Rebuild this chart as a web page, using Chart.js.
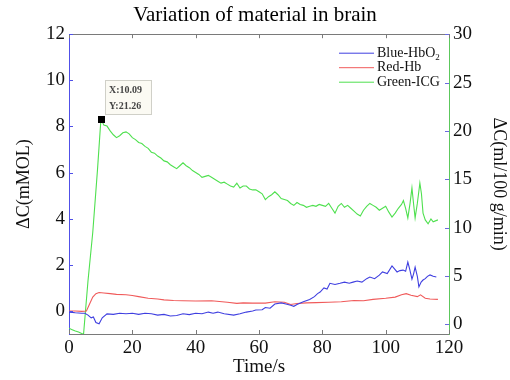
<!DOCTYPE html>
<html>
<head>
<meta charset="utf-8">
<script src="https://cdn.jsdelivr.net/npm/chart.js@4.4.1/dist/chart.umd.min.js"></script>
<style>
  html, body { margin: 0; padding: 0; background: #fff; }
</style>
</head>
<body>
<canvas id="graphe" width="510" height="380"></canvas>
<script>
// time axis (s) and values
const blueTime = [0,2,4,5,6,7,7.7,8.5,9.5,10.5,12,14,16,18,20,22,24,26,28,30,32,34,36,38,40,42,44,45.5,47,49,52,54,56,58,59,61,62,63.5,65,67,68.5,70,71,72,74,76,77.5,78.5,79.3,80.5,81.5,82.4,84,85.6,87,88.5,89.7,91,92.5,94,95,96.5,98,99,100.5,102,103.6,104.5,105.5,106.3,107,107.6,108.3,108.8,109.3,110,110.5,111.2,111.8,112.5,113.2,114,115,116]
const blueHbO2 = [-0.05,-0.08,-0.1,-0.1,-0.18,-0.3,-0.26,-0.5,-0.56,-0.3,-0.13,-0.15,-0.1,-0.12,-0.1,-0.15,-0.1,-0.12,-0.18,-0.15,-0.22,-0.2,-0.12,-0.16,-0.1,-0.12,-0.05,-0.1,-0.05,-0.12,-0.18,-0.12,-0.05,0,0.04,0.05,0.15,0.12,0.3,0.35,0.3,0.25,0.2,0.28,0.4,0.5,0.62,0.75,0.82,1.0,0.95,1.2,1.15,1.2,1.25,1.2,1.25,1.3,1.25,1.4,1.47,1.4,1.55,1.69,1.62,1.95,1.69,1.75,1.77,1.72,2.12,1.8,1.38,1.6,1.9,1.5,1.04,1.25,1.34,1.4,1.5,1.56,1.5,1.47]

const redTime = [0,2,4,5.5,6.5,7.5,8.5,9.5,11,13,15,18,20,22,25,28,30,33,36,40,45,50,53,55,58,62,65,68,70,72,75,78,82,86,90,93,96,100,103,105,106.5,108,110,111,112.5,114,116.5]
const redHb = [0,0,-0.02,0,0.3,0.6,0.75,0.8,0.78,0.75,0.72,0.7,0.67,0.62,0.55,0.52,0.48,0.45,0.44,0.43,0.44,0.38,0.33,0.35,0.34,0.34,0.4,0.38,0.28,0.32,0.35,0.36,0.38,0.4,0.45,0.44,0.5,0.55,0.6,0.7,0.75,0.68,0.62,0.7,0.55,0.52,0.5]

const greenTime = [0,1,2,3,4,4.6,6,7.5,9,10.09,
  11,12,13,14,15,16,17,18,19,20,21,22,23,24,25,26,27,28,29,30,
  31,32,33,34,35,36,37,38,39,40,41,42,43,44,45,46,47,48,49,50,
  51,52,53,54,55,56,57,58,59,60,61,62,63,64,65,66,67,68,69,70,
  71,72,73,74,75,76,77,78,79,80,81,82,83,84,85,86,87,88,89,90,
  91,92,93,94,95,96,97,98,99,100,101,102,103,104,105,105.6,106.3,107,107.7,108.3,
  108.8,109.3,110,110.8,111.3,111.8,112.5,113.4,114.3,115,116.5]
const greenICG = [-0.4,-0.55,-0.7,-0.8,-0.95,-1,4.5,9.5,16,21.26,
  20.6,20.5,20.0,19.6,19.3,19.5,19.8,19.9,19.7,19.3,19.1,18.8,18.7,18.4,18.2,17.8,17.7,17.4,17.2,16.9,
  16.8,16.5,16.3,16.1,16.4,16.7,16.4,16.2,15.9,15.7,15.5,15.2,15.3,15.4,15.2,15.0,14.8,14.6,14.7,14.5,
  14.3,14.2,14.6,14.1,14.3,14.3,14.0,13.9,13.9,13.7,13.5,12.9,13.2,13.4,13.7,13.4,13.0,12.9,12.8,12.5,
  12.3,12.6,12.4,12.3,12.1,12.2,12.3,12.2,12.4,12.3,12.2,12.5,12.0,11.5,12.2,12.5,12.1,12.3,12.0,11.7,
  11.4,11.2,11.8,12.2,12.5,12.3,12.1,11.8,12.0,12.2,11.6,11.1,11.5,12.0,12.4,12.8,12.0,11.0,12.5,14.1,
  12.5,11.0,12.5,14.6,13.5,11.5,10.8,10.4,10.9,10.6,10.8]

const xTicks = [0,20,40,60,80,100,120]
const leftTicks = [0,2,4,6,8,10,12]
const rightTicks = [0,5,10,15,20,25,30]

const labels = ['Blue-HbO', 'Red-Hb', 'Green-ICG']
const couleurs = ['#3f3fe0', '#f05a5a', '#4fe04f']

// data cursor on the green peak
const tipIndex = greenICG.indexOf(Math.max(...greenICG))

const police = 'Liberation Serif'

function points(t, v){
  return Array.from(t, (x, i) => ({x: x, y: v[i]}))
}

const cadre = {
  id: 'cadre',
  afterDraw(chart){
    const ctx = chart.ctx
    const a = chart.chartArea
    const sx = chart.scales.x, sl = chart.scales.yL, sr = chart.scales.yR
    ctx.save()
    ctx.lineWidth = 1
    // top border
    ctx.strokeStyle = '#7a7a7a'
    ctx.beginPath(); ctx.moveTo(a.left, Math.round(a.top) + 0.5); ctx.lineTo(a.right, Math.round(a.top) + 0.5); ctx.stroke()
    // inward ticks on x
    xTicks.forEach(v => {
      const px = Math.round(sx.getPixelForValue(v)) + 0.5
      ctx.beginPath()
      ctx.moveTo(px, a.bottom); ctx.lineTo(px, a.bottom - 4)
      ctx.moveTo(px, a.top); ctx.lineTo(px, a.top + 4)
      ctx.stroke()
    })
    // left ticks (blue)
    ctx.strokeStyle = '#5050e8'
    leftTicks.forEach(v => {
      const py = Math.round(sl.getPixelForValue(v)) + 0.5
      ctx.beginPath(); ctx.moveTo(a.left, py); ctx.lineTo(a.left + 4, py); ctx.stroke()
    })
    // right ticks
    ctx.strokeStyle = '#6a6ae0'
    rightTicks.forEach(v => {
      const py = Math.round(sr.getPixelForValue(v)) + 0.5
      ctx.beginPath(); ctx.moveTo(a.right, py); ctx.lineTo(a.right - 4, py); ctx.stroke()
    })

    // legend
    const lx = a.right - 110, ly = a.top + 19
    labels.forEach((lab, i) => {
      const y = ly + i * 14.5
      ctx.strokeStyle = couleurs[i]
      ctx.beginPath(); ctx.moveTo(lx, y); ctx.lineTo(lx + 35, y); ctx.stroke()
      ctx.fillStyle = '#111'
      ctx.font = '14px "' + police + '"'
      ctx.textBaseline = 'middle'
      ctx.textAlign = 'left'
      ctx.fillText(lab, lx + 38, y)
      if (i === 0){
        const w = ctx.measureText(lab).width
        ctx.font = '9px "' + police + '"'
        ctx.fillText('2', lx + 38 + w, y + 4)
      }
    })

    // data cursor
    const mx = sx.getPixelForValue(greenTime[tipIndex])
    const my = sr.getPixelForValue(greenICG[tipIndex])
    ctx.fillStyle = '#000'
    ctx.fillRect(Math.round(mx) - 3, Math.round(my) - 3, 7, 7)
    const bx = Math.round(mx) + 4, by = Math.round(my) - 39
    ctx.fillStyle = '#fbfaf3'
    ctx.fillRect(bx, by, 46, 34)
    ctx.strokeStyle = '#d0d0c8'
    ctx.strokeRect(bx + 0.5, by + 0.5, 46, 34)
    ctx.fillStyle = '#444'
    ctx.font = 'bold 10px "' + police + '"'
    ctx.textAlign = 'left'
    ctx.textBaseline = 'middle'
    ctx.fillText('X:' + greenTime[tipIndex].toFixed(2), bx + 4, by + 10)
    ctx.fillText('Y:' + greenICG[tipIndex].toFixed(2), bx + 4, by + 26)
    ctx.restore()
  }
}

new Chart(document.getElementById('graphe'), {
  type: 'line',
  data: {
    datasets: [
      { label: labels[0], data: points(blueTime, blueHbO2), borderColor: couleurs[0], yAxisID: 'yL' },
      { label: labels[1], data: points(redTime, redHb), borderColor: couleurs[1], yAxisID: 'yL' },
      { label: labels[2], data: points(greenTime, greenICG), borderColor: couleurs[2], yAxisID: 'yR' }
    ]
  },
  options: {
    responsive: false,
    animation: false,
    devicePixelRatio: 1,
    datasets: { line: { borderWidth: 1.1, pointRadius: 0, tension: 0, fill: false } },
    layout: { padding: 0 },
    plugins: {
      legend: { display: false },
      tooltip: { enabled: false },
      title: {
        display: true,
        text: 'Variation of material in brain',
        color: '#000',
        font: { family: police, size: 21, weight: 'normal' },
        padding: { top: 3, bottom: 6 }
      }
    },
    scales: {
      x: {
        type: 'linear', min: 0, max: 120,
        afterBuildTicks: s => { s.ticks = xTicks.map(v => ({value: v})) },
        afterFit: s => { s.height = 46 },
        grid: { display: false, drawTicks: false },
        border: { display: true, color: '#7a7a7a', width: 1 },
        ticks: { color: '#111', padding: 3, maxRotation: 0, font: { family: police, size: 19 } },
        title: { display: true, text: 'Time/s', color: '#111', padding: { top: 0, bottom: 2 }, font: { family: police, size: 19 } }
      },
      yL: {
        type: 'linear', position: 'left', min: -1, max: 12,
        afterBuildTicks: s => { s.ticks = leftTicks.map(v => ({value: v})) },
        afterFit: s => { s.width = 69 },
        grid: { display: false, drawTicks: false },
        border: { display: true, color: '#5050e8', width: 1 },
        ticks: { color: '#111', padding: 4, font: { family: police, size: 19 } },
        title: { display: true, text: 'ΔC(mMOL)', color: '#111', padding: { top: 13, bottom: 0 }, font: { family: police, size: 18 } }
      },
      yR: {
        type: 'linear', position: 'right', min: -1, max: 30,
        afterBuildTicks: s => { s.ticks = rightTicks.map(v => ({value: v})) },
        afterFit: s => { s.width = 61 },
        grid: { display: false, drawTicks: false },
        border: { display: true, color: '#5cc85c', width: 1 },
        ticks: { color: '#111', padding: 4, font: { family: police, size: 19 } },
        title: { display: true, text: 'ΔC(ml/100 g/min)', color: '#111', padding: { top: 0, bottom: 4 }, font: { family: police, size: 18 } }
      }
    }
  },
  plugins: [cadre]
})
</script>
</body>
</html>
